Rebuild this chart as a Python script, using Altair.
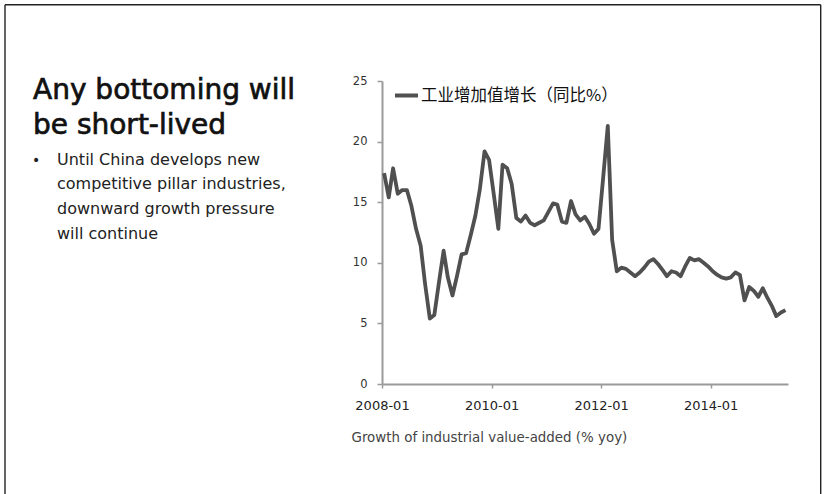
import altair as alt
import pandas as pd

# ---------------- data ----------------
months = pd.date_range("2008-01-01", periods=89, freq="MS")
dates = [(m + pd.Timedelta(days=14)).strftime("%Y-%m-%dT00:00:00") for m in months]

growth_2008 = [17.4, 15.4, 17.8, 15.7, 16.0, 16.0, 14.7, 12.8, 11.4, 8.2, 5.4, 5.7]
growth_2009 = [8.4, 11.0, 8.8, 7.3, 8.9, 10.7, 10.8, 12.3, 13.9, 16.1, 19.2, 18.5]
growth_2010 = [15.7, 12.8, 18.1, 17.8, 16.5, 13.7, 13.4, 13.9, 13.3, 13.1, 13.3, 13.5]
growth_2011 = [14.2, 14.9, 14.8, 13.4, 13.3, 15.1, 14.0, 13.5, 13.8, 13.2, 12.4, 12.8]
growth_2012 = [17.0, 21.3, 11.9, 9.3, 9.6, 9.5, 9.2, 8.9, 9.2, 9.6, 10.1, 10.3]
growth_2013 = [9.9, 9.4, 8.9, 9.3, 9.2, 8.9, 9.7, 10.4, 10.2, 10.3, 10.0, 9.7]
growth_2014 = [9.3, 9.0, 8.8, 8.7, 8.8, 9.2, 9.0, 6.9, 8.0, 7.7, 7.2, 7.9]
growth_2015 = [7.1, 6.4, 5.6, 5.9, 6.1]
growth = (growth_2008 + growth_2009 + growth_2010 + growth_2011 +
          growth_2012 + growth_2013 + growth_2014 + growth_2015)

series_name = "工业增加值增长（同比%）"
y_ticks = [0, 5, 10, 15, 20, 25]
x_tick_years = [2008, 2010, 2012, 2014]

title_text = "Any bottoming will\nbe short-lived"
bullet_lines = "Until China develops new\ncompetitive pillar industries,\ndownward growth pressure\nwill continue"
caption_text = "Growth of industrial value-added (% yoy)"

df = pd.DataFrame({"date": dates, "growth": growth, "series": series_name})
one = pd.DataFrame({"k": [0]})

# ---------------- layout ----------------
L, T = 382, 81
W, H = 406, 303

line = alt.Chart(df).mark_line(strokeWidth=3.8, strokeJoin="round").encode(
    x=alt.X(
        "date:T",
        scale=alt.Scale(domain=[alt.DateTime(year=2008, month=1, date=1),
                                alt.DateTime(year=2015, month=6, date=1)]),
        axis=alt.Axis(
            values=[alt.DateTime(year=y, month=1, date=1) for y in x_tick_years],
            format="%Y-%m", title=None, grid=False,
            domainColor="#9a9a9a", domainWidth=2, tickColor="#9a9a9a", tickWidth=1.5,
            tickSize=4, labelFont="DejaVu Sans", labelFontSize=13, labelColor="#222222",
            labelPadding=11, labelFlush=False,
        ),
    ),
    y=alt.Y(
        "growth:Q",
        scale=alt.Scale(domain=[0, 25], nice=False),
        axis=alt.Axis(
            values=y_ticks, title=None, grid=False,
            domainColor="#9a9a9a", domainWidth=2, tickColor="#9a9a9a", tickWidth=1.5,
            tickSize=5, labelFont="DejaVu Sans", labelFontSize=11.5, labelColor="#333333",
            labelPadding=10,
        ),
    ),
    color=alt.Color(
        "series:N",
        scale=alt.Scale(range=["#505050"]),
        legend=alt.Legend(
            orient="none", legendX=11, legendY=1, title=None, padding=0,
            symbolType="stroke", symbolStrokeWidth=4, symbolSize=529,
            labelFont="Noto Sans CJK SC", labelFontSize=16.5, labelColor="#111111",
            labelOffset=1, labelLimit=0,
        ),
    ),
)


def text_layer(field_text, x, y, size, font="DejaVu Sans", color="#111111",
               line_height=None, stroke_w=0.0):
    kw = dict(align="left", baseline="alphabetic", font=font, fontSize=size,
              color=color, lineBreak="\n")
    if line_height is not None:
        kw["lineHeight"] = line_height
    if stroke_w > 0:
        kw["stroke"] = color
        kw["strokeWidth"] = stroke_w
    return alt.Chart(pd.DataFrame({"t": [field_text]})).mark_text(**kw).encode(
        text="t:N", x=alt.value(x - L), y=alt.value(y - T)
    )


title = text_layer(title_text, 33, 98.5, 28, color="#111111", line_height=35, stroke_w=0.7)
bullet = text_layer("•", 32, 165, 14, color="#222222")
body = text_layer(bullet_lines, 57, 164.5, 16, color="#222222", line_height=24.7)
caption = text_layer(caption_text, 351.5, 441.5, 13.4, color="#444444")

border_color = "#222222"
top_rule = alt.Chart(one).mark_rule(color=border_color, strokeWidth=1.4).encode(
    x=alt.value(5 - L), x2=alt.value(820.7 - L), y=alt.value(4.7 - T))
left_rule = alt.Chart(one).mark_rule(color=border_color, strokeWidth=1.4).encode(
    x=alt.value(5 - L), y=alt.value(4.7 - T), y2=alt.value(500 - T))
right_rule = alt.Chart(one).mark_rule(color=border_color, strokeWidth=1.4).encode(
    x=alt.value(820.7 - L), y=alt.value(4.7 - T), y2=alt.value(500 - T))

chart = alt.layer(
    line, title, bullet, body, caption, top_rule, left_rule, right_rule
).properties(
    width=W, height=H,
    autosize=alt.AutoSizeParams(type="none"),
    padding={"left": L, "top": T, "right": 824 - L - W, "bottom": 494 - T - H},
    background="white",
).configure_view(stroke=None)

chart.save("out.html", embed_options={"renderer": "svg", "actions": False})
